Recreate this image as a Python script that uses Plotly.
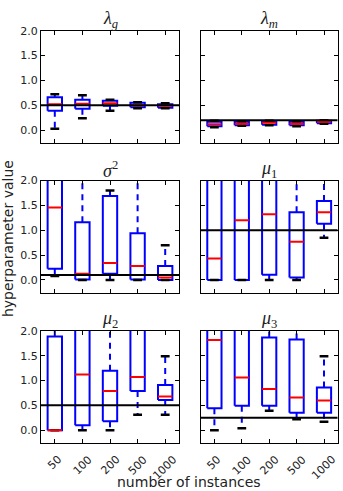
import plotly.graph_objects as go

# ---------------- data ----------------
categories = ["50", "100", "200", "500", "1000"]
titles = ["<i>λ</i><sub><i>g</i></sub>", "<i>λ</i><sub><i>m</i></sub>",
          "<i>σ</i><sup>2</sup>", "<i>μ</i><sub>1</sub>",
          "<i>μ</i><sub>2</sub>", "<i>μ</i><sub>3</sub>"]
truth = [0.5, 0.2, 0.1, 1.0, 0.5, 0.25]

lam_g_q1 = [0.39, 0.43, 0.49, 0.46, 0.45]
lam_g_med = [0.52, 0.53, 0.54, 0.50, 0.49]
lam_g_q3 = [0.66, 0.61, 0.59, 0.55, 0.52]
lam_g_lo = [0.03, 0.24, 0.39, 0.44, 0.44]
lam_g_hi = [0.72, 0.70, 0.61, 0.56, 0.54]

lam_m_q1 = [0.08, 0.10, 0.11, 0.10, 0.14]
lam_m_med = [0.12, 0.13, 0.15, 0.13, 0.17]
lam_m_q3 = [0.17, 0.17, 0.18, 0.17, 0.19]
lam_m_lo = [0.06, 0.09, 0.10, 0.08, 0.13]
lam_m_hi = [0.19, 0.18, 0.19, 0.18, 0.20]

sig_q1 = [0.225, 0.01, 0.126, 0.01, 0.0]
sig_med = [1.46, 0.126, 0.34, 0.28, 0.05]
sig_q3 = [2.6, 1.16, 1.69, 0.94, 0.28]
sig_lo = [0.08, 0.0, 0.0, 0.0, 0.0]
sig_hi = [3.5, 3.0, 1.80, 3.0, 0.70]

mu1_q1 = [0.0, 0.0, 0.106, 0.05, 1.13]
mu1_med = [0.43, 1.20, 1.32, 0.77, 1.36]
mu1_q3 = [3.0, 3.0, 3.0, 1.36, 1.59]
mu1_lo = [0.0, 0.0, 0.0, 0.0, 0.85]
mu1_hi = [4.0, 4.0, 4.0, 3.0, 3.0]

mu2_q1 = [0.0, 0.10, 0.18, 0.79, 0.61]
mu2_med = [0.0, 1.12, 0.79, 1.07, 0.68]
mu2_q3 = [1.89, 2.5, 1.20, 2.5, 0.91]
mu2_lo = [0.0, 0.0, 0.0, 0.31, 0.31]
mu2_hi = [2.5, 3.5, 3.0, 3.5, 1.49]

mu3_q1 = [0.44, 0.49, 0.49, 0.35, 0.35]
mu3_med = [1.82, 1.06, 0.83, 0.66, 0.60]
mu3_q3 = [2.5, 2.5, 1.87, 1.83, 0.86]
mu3_lo = [0.0, 0.04, 0.39, 0.22, 0.17]
mu3_hi = [3.0, 3.0, 2.2, 2.5, 1.49]

panels = [
    (lam_g_q1, lam_g_med, lam_g_q3, lam_g_lo, lam_g_hi),
    (lam_m_q1, lam_m_med, lam_m_q3, lam_m_lo, lam_m_hi),
    (sig_q1, sig_med, sig_q3, sig_lo, sig_hi),
    (mu1_q1, mu1_med, mu1_q3, mu1_lo, mu1_hi),
    (mu2_q1, mu2_med, mu2_q3, mu2_lo, mu2_hi),
    (mu3_q1, mu3_med, mu3_q3, mu3_lo, mu3_hi),
]
ytickvals = [0.0, 0.5, 1.0, 1.5, 2.0]

# ---------------- layout geometry ----------------
W, H = 343, 491
col_px = [(41, 179), (200.7, 337.7)]
row_px = [(25, 139), (176.7, 290.7), (329, 442.7)]
BLUE, RED, BLACK = "#0000ff", "#ff0000", "#000000"
BW, CW = 0.26, 0.16
FONT = "DejaVu Sans"

fig = go.Figure()
layout = dict(width=W, height=H, margin=dict(l=0, r=0, t=0, b=0),
              paper_bgcolor="white", plot_bgcolor="white", showlegend=False)
annotations = []

for k, (q1, med, q3, lo, hi) in enumerate(panels):
    r, c = divmod(k, 2)
    ax = k + 1
    xs = "" if ax == 1 else str(ax)
    xa, ya = "x" + xs, "y" + xs
    x0, x1 = col_px[c]
    yt, yb = row_px[r]
    pos = list(range(1, len(categories) + 1))

    wx, wy, bx, by, cx, cy, mx, my = [], [], [], [], [], [], [], []
    for i, p in enumerate(pos):
        wx += [p, p, None, p, p, None]
        wy += [q3[i], hi[i], None, q1[i], lo[i], None]
        bx += [p - BW, p + BW, p + BW, p - BW, p - BW, None]
        by += [q1[i], q1[i], q3[i], q3[i], q1[i], None]
        cx += [p - CW, p + CW, None, p - CW, p + CW, None]
        cy += [hi[i], hi[i], None, lo[i], lo[i], None]
        mx += [p - BW, p + BW, None]
        my += [med[i], med[i], None]

    common = dict(mode="lines", xaxis=xa, yaxis=ya, hoverinfo="skip")
    fig.add_trace(go.Scatter(x=wx, y=wy, line=dict(color=BLUE, width=2, dash="6px,5px"), **common))
    fig.add_trace(go.Scatter(x=bx, y=by, line=dict(color=BLUE, width=2), **common))
    fig.add_trace(go.Scatter(x=cx, y=cy, line=dict(color=BLACK, width=2.5), **common))
    fig.add_trace(go.Scatter(x=mx, y=my, line=dict(color=RED, width=2), **common))
    fig.add_trace(go.Scatter(x=[0.5, 5.5], y=[truth[k], truth[k]],
                             line=dict(color=BLACK, width=2), **common))

    axis_common = dict(showline=True, linecolor="black", linewidth=1, mirror="ticks",
                       ticks="inside", ticklen=4, tickcolor="black", tickwidth=1,
                       showgrid=False, zeroline=False)
    layout["xaxis" + xs] = dict(domain=[x0 / W, x1 / W], range=[0.5, 5.5],
                                tickvals=pos, showticklabels=False, anchor=ya, **axis_common)
    layout["yaxis" + xs] = dict(domain=[1 - yb / H, 1 - yt / H], range=[-0.265, 2.0],
                                tickvals=ytickvals, tickformat=".1f",
                                showticklabels=(c == 0), anchor=xa,
                                tickfont=dict(family=FONT, size=11, color="#222"),
                                **axis_common)

    annotations.append(dict(text=titles[k], x=(x0 + x1) / 2 / W, y=1 - yt / H,
                            xref="paper", yref="paper", xanchor="center", yanchor="bottom",
                            showarrow=False, yshift=-2,
                            font=dict(family="Liberation Serif", size=18, color="#222")))
    if r == 2:
        for i, p in enumerate(pos):
            annotations.append(dict(text=categories[i], x=p, xref=xa, y=1 - 450 / H,
                                    yref="paper", xanchor="center", yanchor="top",
                                    textangle=-45, showarrow=False,
                                    font=dict(family=FONT, size=11, color="#222")))

annotations.append(dict(text="number of instances", x=189 / W, y=1 - 482 / H,
                        xref="paper", yref="paper", xanchor="center", yanchor="middle",
                        showarrow=False, font=dict(family=FONT, size=14, color="#222")))
annotations.append(dict(text="hyperparameter value", x=8 / W, y=1 - 236 / H,
                        xref="paper", yref="paper", xanchor="center", yanchor="middle",
                        textangle=-90, showarrow=False,
                        font=dict(family=FONT, size=14, color="#222")))
layout["annotations"] = annotations
fig.update_layout(**layout)
fig.write_html("out.html")
